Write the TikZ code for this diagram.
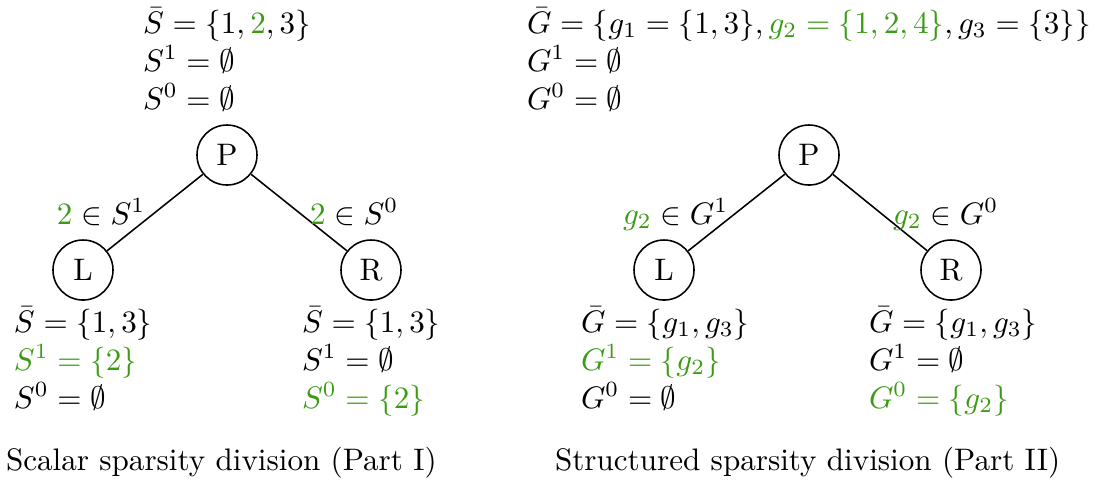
\documentclass[tikz,border=0pt]{standalone}
\usepackage{amsmath,amssymb}
\definecolor{hl}{RGB}{60,155,20}
\begin{document}
\begin{tikzpicture}[x=0.3215pt,y=-0.3215pt,
  tnode/.style={circle,draw,line width=0.5pt,minimum size=19.3pt,inner sep=0pt},
  txt/.style={anchor=base west,inner sep=0pt,outer sep=0pt},
  conn/.style={draw,line width=0.5pt}]
\useasboundingbox (0,0) rectangle (1100,481);
% ---- Part I ----
\node[txt] (a1) at (143,33) {$\bar S=\{1,{\color{hl}2},3\}$};
\node[txt] (a2) at (143,71) {$S^1=\emptyset$};
\node[txt] (a3) at (143,109) {$S^0=\emptyset$};
\node[tnode] (P1) at (227,155) {P};
\node[tnode] (L1) at (83,270) {L};
\node[tnode] (R1) at (371,270) {R};
\draw[conn] (P1) -- (L1);
\draw[conn] (P1) -- (R1);
\node[txt] (e1) at (57,224) {${\color{hl}2}\in S^1$};
\node[txt] (e2) at (310,224) {${\color{hl}2}\in S^0$};
\node[txt] (b1) at (14,332) {$\bar S=\{1,3\}$};
\node[txt,text=hl] (b2) at (14,370) {$S^1=\{2\}$};
\node[txt] (b3) at (14,408) {$S^0=\emptyset$};
\node[txt] (c1) at (302,332) {$\bar S=\{1,3\}$};
\node[txt] (c2) at (302,370) {$S^1=\emptyset$};
\node[txt,text=hl] (c3) at (302,408) {$S^0=\{2\}$};
\node[txt] (cap1) at (6,470) {Scalar sparsity division (Part I)};
% ---- Part II ----
\node[txt] (d1) at (527,33) {$\bar G=\{g_1=\{1,3\},{\color{hl}g_2=\{1,2,4\}},g_3=\{3\}\}$};
\node[txt] (d2) at (527,71) {$G^1=\emptyset$};
\node[txt] (d3) at (527,109) {$G^0=\emptyset$};
\node[tnode] (P2) at (809,155) {P};
\node[tnode] (L2) at (664,270) {L};
\node[tnode] (R2) at (951,270) {R};
\draw[conn] (P2) -- (L2);
\draw[conn] (P2) -- (R2);
\node[txt] (f1) at (623,224) {${\color{hl}g_2}\in G^1$};
\node[txt] (f2) at (893,224) {${\color{hl}g_2}\in G^0$};
\node[txt] (g1) at (581,332) {$\bar G=\{g_1,g_3\}$};
\node[txt,text=hl] (g2) at (581,370) {$G^1=\{g_2\}$};
\node[txt] (g3) at (581,408) {$G^0=\emptyset$};
\node[txt] (h1) at (869,332) {$\bar G=\{g_1,g_3\}$};
\node[txt] (h2) at (869,370) {$G^1=\emptyset$};
\node[txt,text=hl] (h3) at (869,408) {$G^0=\{g_2\}$};
\node[txt] (cap2) at (555,470) {Structured sparsity division (Part II)};
\end{tikzpicture}
\end{document}
